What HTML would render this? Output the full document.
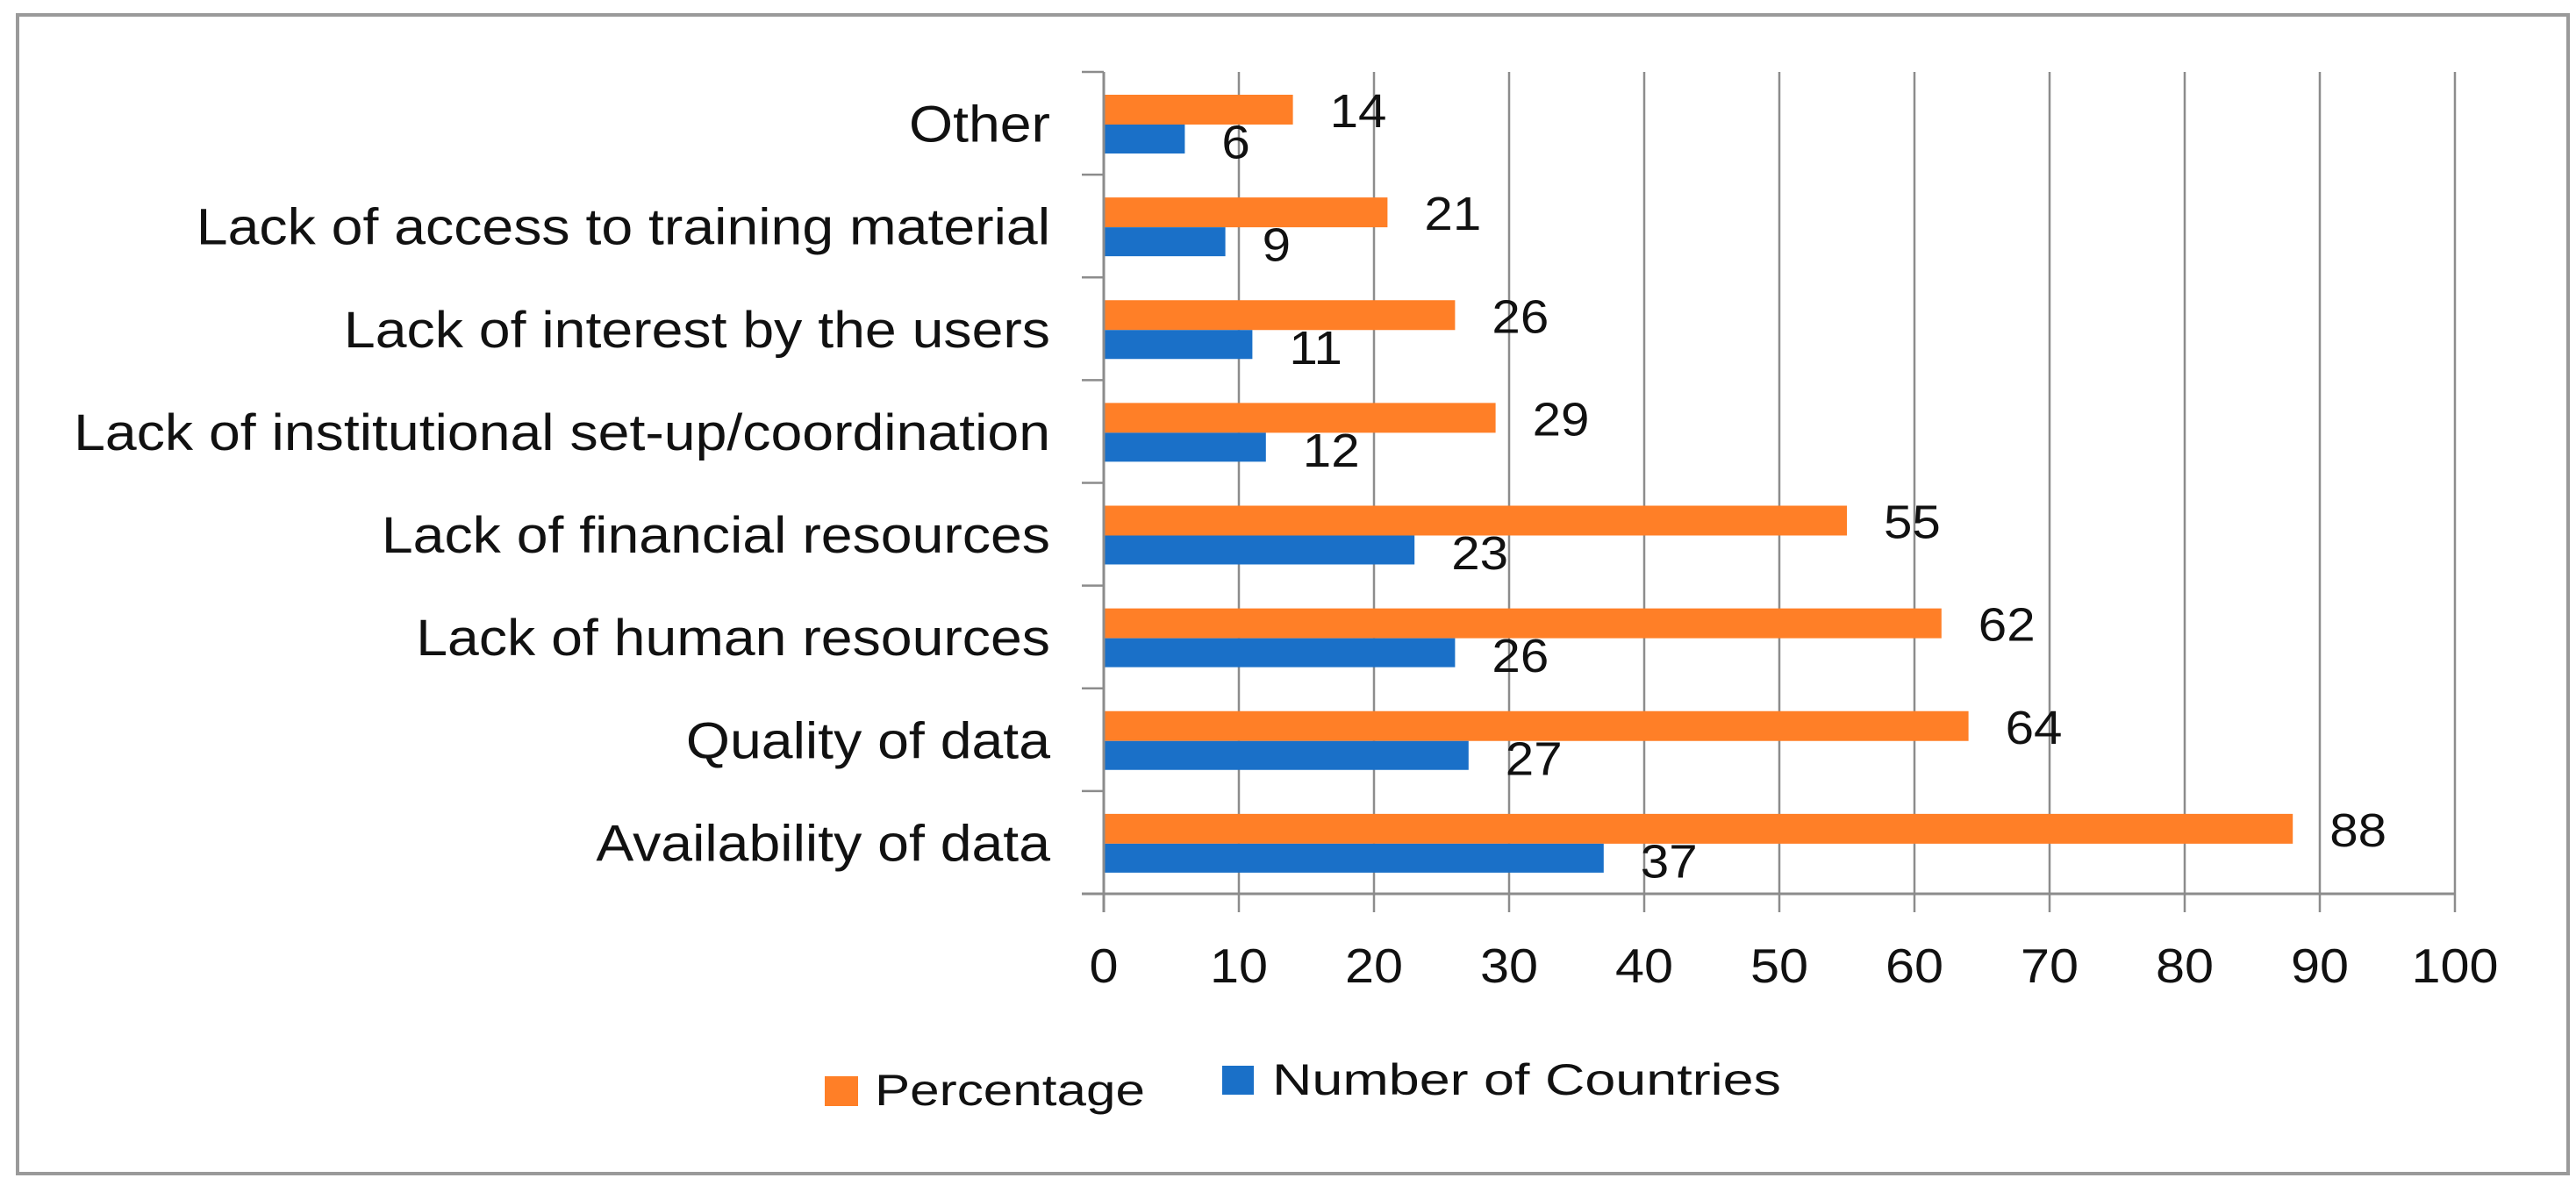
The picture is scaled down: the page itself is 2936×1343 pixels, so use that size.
<!DOCTYPE html>
<html><head><meta charset="utf-8"><style>
html,body{margin:0;padding:0;background:#fff;}
svg{display:block;font-family:"Liberation Sans",sans-serif;}
</style></head><body>
<svg id="chart" width="2936" height="1343" viewBox="0 0 2936 1343" xmlns="http://www.w3.org/2000/svg">
<rect x="20" y="17" width="2907" height="1321" fill="#fff" stroke="#9a9a9a" stroke-width="4"/>
<g id="grid"></g><g id="bars"></g><g id="labels"></g><g id="axes"></g>
<g>
<rect x="940" y="1227" width="38" height="34" fill="#FF7F27"/>
<text x="997" y="1260" font-size="50" fill="#111" textLength="308" lengthAdjust="spacingAndGlyphs">Percentage</text>
<rect x="1393" y="1215" width="36" height="33" fill="#1A70C8"/>
<text x="1450" y="1248" font-size="50" fill="#111" textLength="580" lengthAdjust="spacingAndGlyphs">Number of Countries</text>
</g>
</svg>
<script>
const categories = ["Other","Lack of access to training material","Lack of interest by the users","Lack of institutional set-up/coordination","Lack of financial resources","Lack of human resources","Quality of data","Availability of data"];
const percentage = [14,21,26,29,55,62,64,88];
const countries = [6,9,11,12,23,26,27,37];
const xTicks = [0,10,20,30,40,50,60,70,80,90,100];

const NS="http://www.w3.org/2000/svg";
const X0=1258,X1=2798,Y0=82,Y1=1019;
const xs=v=>X0+(v/100)*(X1-X0);
const band=(Y1-Y0)/categories.length;
function mk(tag,attrs,parent){const e=document.createElementNS(NS,tag);for(const k in attrs)e.setAttribute(k,attrs[k]);parent.appendChild(e);return e;}
function txt(parent,x,y,size,sx,anchor,content){
  const e=mk('text',{x:0,y:0,'font-size':size,'text-anchor':anchor,fill:'#111',transform:'translate('+x+','+y+') scale('+sx+',1)'},parent);
  e.textContent=content;return e;
}
const grid=document.getElementById('grid'),bars=document.getElementById('bars'),labels=document.getElementById('labels'),axes=document.getElementById('axes');

xTicks.forEach((t,i)=>{
  if(i>0){const g=mk('line',{x1:xs(t),x2:xs(t),y1:Y0,y2:Y1,stroke:'#8c8c8c','stroke-width':2.5},grid);
  
  }
  const tk=mk('line',{x1:xs(t),x2:xs(t),y1:Y1,y2:Y1+21,stroke:'#8c8c8c','stroke-width':2.5},axes);
  
  
  const tl=txt(axes,xs(t),1120,55,1.08,'middle',t);
  
  
});
const xa=mk('line',{x1:X0-25,x2:X1,y1:Y1,y2:Y1,stroke:'#8c8c8c','stroke-width':3},axes);


const ya=mk('line',{x1:X0,x2:X0,y1:Y0,y2:Y1+21,stroke:'#8c8c8c','stroke-width':3},axes);


for(let i=0;i<=categories.length;i++){
  const y=Y0+i*band;
  const t=mk('line',{x1:X0-25,x2:X0,y1:y,y2:y,stroke:'#8c8c8c','stroke-width':2.5},axes);
  
  
}
categories.forEach((c,i)=>{
  const top=Y0+i*band;
  const yo=top+26,h1=34,yb=yo+h1,h2=33;
  const ob=mk('rect',{x:X0,y:yo,width:xs(percentage[i])-X0,height:h1,fill:'#FF7F27'},bars);
  
  
  const bb=mk('rect',{x:X0,y:yb,width:xs(countries[i])-X0,height:h2,fill:'#1A70C8'},bars);
  
  
  const ol=txt(labels,xs(percentage[i])+42,yo+h1/2+20,54,1.08,'start',percentage[i]);
  
  
  const bl=txt(labels,xs(countries[i])+42,yb+h2/2+22,54,1.08,'start',countries[i]);
  
  
  const cl=txt(labels,1197,top+band/2+21,58,1.11,'end',c);
  
  
});
</script>
</body></html>
